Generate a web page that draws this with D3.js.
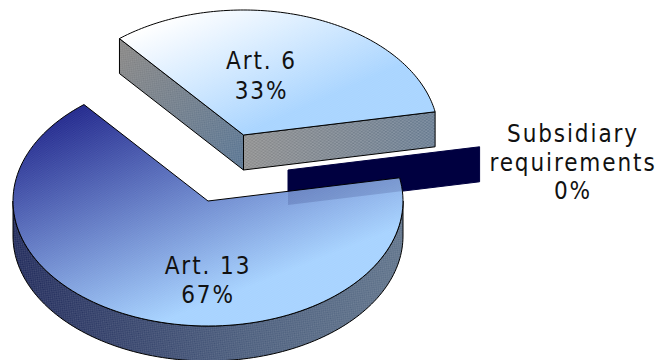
<!DOCTYPE html>
<html>
<head>
<meta charset="utf-8">
<script src="https://cdn.jsdelivr.net/npm/d3@7"></script>
<style>
  html, body { margin: 0; padding: 0; background: #fff; }
  svg { display: block; }
  text { font-family: "DejaVu Sans Condensed", "DejaVu Sans", sans-serif; font-stretch: condensed; fill: #111; text-anchor: middle; }
</style>
</head>
<body>
<svg id="chart" width="659" height="360"></svg>
<script>
// Shares of the requirements, in drawing order around the pie
const categories = ["Art. 6", "Subsidiary requirements", "Art. 13"];
const shares = [33, 0, 67];
const labelLines = [["Art. 6", "33%"], ["Subsidiary", "requirements", "0%"], ["Art. 13", "67%"]];

// Pie layout and its oblique projection
const startDeg = -39.5;
const radiusX = 195, radiusY = 125, depth = 35;
const centreX = 208, centreY = 201;
const explodeX = [35.5, 80, 0];
const explodeY = [-66, -31, 0];
const labelX = [261.5, 573, 208];
const labelY = [69, 142, 274];
const lineGap = [30, 28.5, 29];

const svg = d3.select("#chart");
const defs = svg.append("defs");

function gradient(id, x1, y1, x2, y2, stops) {
  const g = defs.append("linearGradient").attr("id", id)
    .attr("gradientUnits", "userSpaceOnUse")
    .attr("x1", x1).attr("y1", y1).attr("x2", x2).attr("y2", y2);
  stops.forEach(s => g.append("stop").attr("offset", s[0]).attr("stop-color", s[1]));
}
// Lit top faces run towards pale blue at the lower right
gradient("topLight", 175, 15, 230, 140, [[0, "#ffffff"], [1, "#a8d4ff"]]);
gradient("topDark", 84, 105, 169, 319, [[0, "#20268c"], [1, "#a6d2ff"]]);
// Side walls
gradient("wallLeft", 119, 60, 244, 170, [[0, "#828282"], [1, "#53708f"]]);
gradient("wallFront", 244, 140, 434, 140, [[0, "#8a8a8a"], [1, "#64788e"]]);
gradient("wallRound", 14, 230, 403, 230, [[0, "#1c2658"], [0.6, "#475a7a"], [1, "#5c7088"]]);

// Fine dithered weave laid over the filled faces
function weave(id, w, h, angle, alpha) {
  const p = defs.append("pattern").attr("id", id).attr("patternUnits", "userSpaceOnUse")
    .attr("width", w).attr("height", h).attr("patternTransform", `rotate(${angle})`);
  p.append("rect").attr("width", w / 2).attr("height", h / 2).attr("fill", "#fff").attr("opacity", alpha);
  p.append("rect").attr("x", w / 2).attr("y", h / 2).attr("width", w / 2).attr("height", h / 2)
    .attr("fill", "#fff").attr("opacity", alpha);
}
weave("weaveTop", 3, 2, -8, 0.07);
weave("weaveFront", 4, 3, -7, 0.2);
weave("weaveSide", 3, 3, 38, 0.16);

const arcs = d3.pie().sort(null).value(d => d)
  .startAngle(startDeg * Math.PI / 180)
  .endAngle((startDeg + 360) * Math.PI / 180)(shares);

// Unit circle -> page coordinates for the top plane of slice i
const sx = i => d3.scaleLinear().domain([-1, 1]).range([centreX + explodeX[i] - radiusX, centreX + explodeX[i] + radiusX]);
const sy = i => d3.scaleLinear().domain([-1, 1]).range([centreY + explodeY[i] - radiusY, centreY + explodeY[i] + radiusY]);
const line = d3.line();

function rim(i, a0, a1, dy) {
  const x = sx(i), y = sy(i), n = 120;
  return d3.range(n + 1).map(k => {
    const a = a0 + (a1 - a0) * k / n;
    return [x(Math.sin(a)), y(-Math.cos(a)) + dy];
  });
}
const apex = (i, dy) => [sx(i)(0), sy(i)(0) + dy];

function face(pts, fill, overlay, stroke) {
  const d = line(pts) + "Z";
  svg.append("path").attr("d", d).attr("fill", fill);
  if (overlay) svg.append("path").attr("d", d).attr("fill", `url(#${overlay})`);
  svg.append("path").attr("d", d).attr("fill", "none")
    .attr("stroke", stroke || "#000").attr("stroke-width", 1).attr("stroke-linejoin", "round");
}

const small = arcs[0], zero = arcs[1], big = arcs[2];

// Zero-width slice: a single radial plane seen edge-on
const zeroOuter = rim(1, zero.startAngle, zero.startAngle, 0)[0];
const zeroPlane = [apex(1, 0), zeroOuter, [zeroOuter[0], zeroOuter[1] + depth], apex(1, depth)];
face(zeroPlane, "#000040", null, "#000040");

// Art. 13: outer wall first, then the top face
const wallA0 = Math.max(big.startAngle, Math.PI / 2);
const wallA1 = Math.min(big.endAngle, 3 * Math.PI / 2);
const wallTop = rim(2, wallA0, wallA1, 0);
const wallBottom = rim(2, wallA0, wallA1, depth).reverse();
face(wallTop.concat(wallBottom), "url(#wallRound)", "weaveSide");
const bigTop = [apex(2, 0)].concat(rim(2, big.startAngle, big.endAngle, 0));
face(bigTop, "url(#topDark)", "weaveTop");

// The hidden part of the zero slice glows faintly through the top face
svg.append("clipPath").attr("id", "bigTop").append("path").attr("d", line(bigTop) + "Z");
svg.append("path").attr("d", line(zeroPlane) + "Z")
  .attr("fill", "#000040").attr("opacity", 0.14).attr("clip-path", "url(#bigTop)");

// Art. 6: two straight walls and the top face
const leftCorner = rim(0, small.startAngle, small.startAngle, 0)[0];
const rightCorner = rim(0, small.endAngle, small.endAngle, 0)[0];
face([leftCorner, apex(0, 0), apex(0, depth), [leftCorner[0], leftCorner[1] + depth]], "url(#wallLeft)", "weaveSide");
face([apex(0, 0), rightCorner, [rightCorner[0], rightCorner[1] + depth], apex(0, depth)], "url(#wallFront)", "weaveFront");
face([apex(0, 0)].concat(rim(0, small.startAngle, small.endAngle, 0)), "url(#topLight)", "weaveTop");

// Data labels
categories.forEach((c, i) => {
  const t = svg.append("text").attr("font-size", 24).attr("letter-spacing", 1.9);
  labelLines[i].forEach((s, k) => {
    t.append("tspan").attr("x", labelX[i]).attr("y", labelY[i] + k * lineGap[i]).text(s);
  });
});
</script>
</body>
</html>
